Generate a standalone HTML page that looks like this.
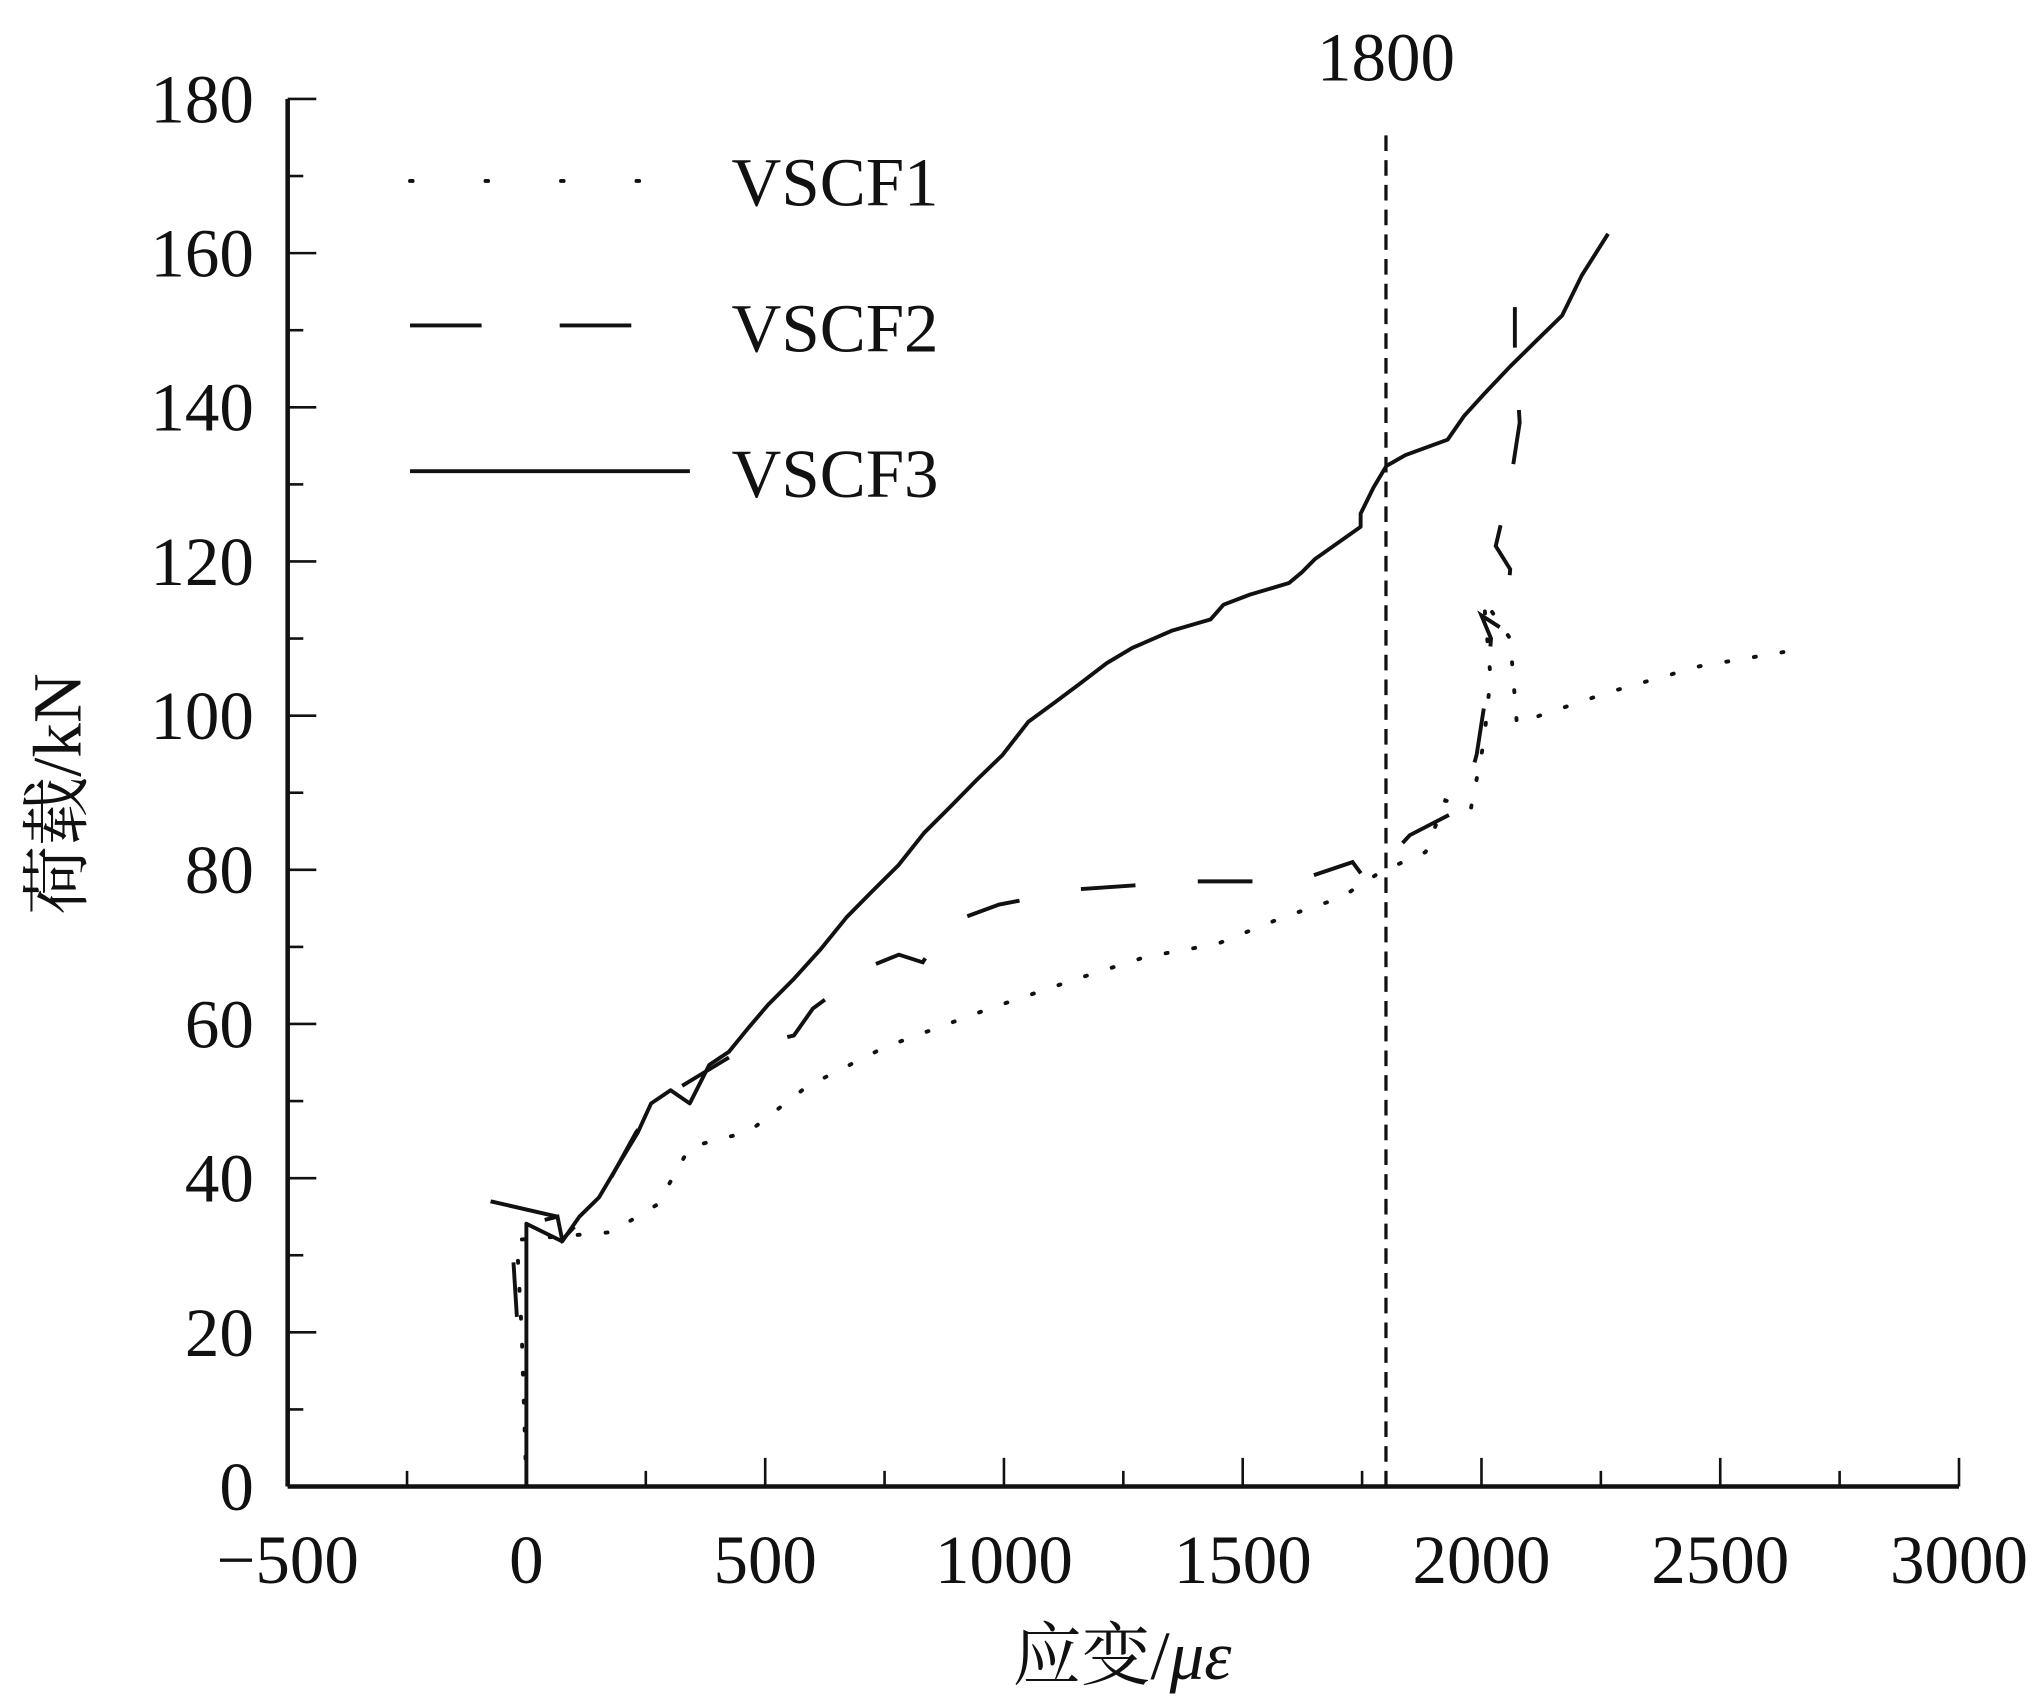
<!DOCTYPE html>
<html><head><meta charset="utf-8"><style>
html,body{margin:0;padding:0;background:#fff;}
svg{display:block;}
text{font-family:"Liberation Serif","Noto Serif CJK SC",serif;fill:#111;}
</style></head><body>
<svg id="chart" width="2041" height="1700" viewBox="0 0 1568 1306" xmlns="http://www.w3.org/2000/svg">
<g id="axes"></g>
<g id="series"></g>
<g id="legend">
  <line x1="315" y1="139" x2="530" y2="139" stroke="#111" stroke-width="3" stroke-dasharray="2 56" stroke-linecap="round"/>
  <text x="562" y="158" font-size="53">VSCF1</text>
  <line x1="315" y1="250" x2="530" y2="250" stroke="#111" stroke-width="3" stroke-dasharray="55 60"/>
  <text x="562" y="270" font-size="53">VSCF2</text>
  <line x1="315" y1="362" x2="530" y2="362" stroke="#111" stroke-width="3"/>
  <text x="562" y="382" font-size="53">VSCF3</text>
</g>
<text transform="translate(62,610) rotate(-90)" text-anchor="middle" font-size="53">荷载/kN</text>
<text x="862" y="1290" text-anchor="middle" font-size="53">应变/<tspan font-style="italic">με</tspan></text>
</svg>
<script>
const xTicks=[-500,0,500,1000,1500,2000,2500,3000];
const yTicks=[0,20,40,60,80,100,120,140,160,180];
const refStrain=1800;
const s1Strain=[0,-10,-20,178,275,342,400,465,588,751,970,1160,1297,1447,1583,1706,1788,1883,1924,1978,2005,2019,2005,2060,2074,2265,2456,2647];
const s1Load=[0,20,32,33,36.6,44,45,46,51.9,57,62,66,68.7,70.4,73.8,76.4,79.7,82.3,89,88,96.6,105,115,110,99,103,106.4,108.4];
const s2Strain=[-20,-30,0,65,75,150,230,300,380,460,560,600,720,780,830,880,990,1160,1400,1610,1730,1760,1850,1960,1990,2010,2020,2000,2050,2060,2030,2060,2080,2070,2070];
const s2Load=[22,32,34,35,32,37,46,51,54,57,58.5,62,67.5,69,68,73,75.5,77.5,78.5,78.5,81,78.5,84.5,88,95,103,110,113,111,119,122,130,138,148,153];
const s3Strain=[0,0,75,111,152,192,233,261,302,342,383,424,465,506,561,615,670,724,779,833,888,942,997,1051,1106,1160,1215,1269,1351,1433,1460,1515,1597,1624,1651,1747,1747,1774,1801,1841,1929,1964,2005,2060,2114,2169,2210,2265];
const s3Load=[0,34.1,31.8,35,37.5,41.7,45.9,49.7,51.4,49.7,54.7,56.4,59.5,62.5,65.9,69.6,73.8,77.2,80.6,84.8,88.2,91.6,94.9,99.2,101.7,104.2,106.8,108.8,111,112.5,114.4,115.7,117.2,118.6,120.3,124.5,126.2,129.6,132.4,133.8,135.8,138.9,141.7,145.3,148.6,151.9,157.1,162.5];
const s3Lead=[[-75,37],[65,35]];
const X0=221,X1=1505,Y0=1142,Y1=76;
const xs=v=>X0+(v+500)/3500*(X1-X0);
const ys=v=>Y0-v/180*(Y0-Y1);
const NS="http://www.w3.org/2000/svg";
function mk(tag,attrs,parent){const e=document.createElementNS(NS,tag);for(const k in attrs)e.setAttribute(k,attrs[k]);parent.appendChild(e);return e;}
const ax=document.getElementById('axes');
let e=mk('line',{x1:X0,y1:Y0,x2:X1,y2:Y0,stroke:'#111','stroke-width':3.5},ax);


e=mk('line',{x1:X0,y1:Y0,x2:X0,y2:Y1,stroke:'#111','stroke-width':3.5},ax);


for(let v=-500;v<=3000;v+=250){const maj=v%500===0;e=mk('line',{x1:xs(v),y1:Y0,x2:xs(v),y2:Y0-(maj?22:12),stroke:'#111','stroke-width':2},ax);

}
for(let v=0;v<=180;v+=10){const maj=v%20===0;e=mk('line',{x1:X0,y1:ys(v),x2:X0+(maj?22:12),y2:ys(v),stroke:'#111','stroke-width':2},ax);

}
xTicks.forEach(v=>{e=mk('text',{x:xs(v),y:Y0+74,'text-anchor':'middle','font-size':53},ax);e.textContent=(v<0?'\u2212'+(-v):v);

});
yTicks.forEach(v=>{e=mk('text',{x:X0-26,y:ys(v)+18,'text-anchor':'end','font-size':53},ax);e.textContent=v;

});
e=mk('line',{x1:xs(refStrain),y1:Y0,x2:xs(refStrain),y2:98,stroke:'#111','stroke-width':2.5,'stroke-dasharray':'12 7'},ax);


e=mk('text',{x:xs(refStrain),y:62,'text-anchor':'middle','font-size':53},ax);e.textContent=refStrain;


const sg=document.getElementById('series');
function pts(xa,ya){return xa.map((x,i)=>xs(x).toFixed(1)+','+ys(ya[i]).toFixed(1)).join(' ');}
e=mk('polyline',{points:pts(s1Strain,s1Load),fill:'none',stroke:'#111','stroke-width':3,'stroke-dasharray':'1.5 20','stroke-linecap':'round'},sg);


e=mk('polyline',{points:pts(s2Strain,s2Load),fill:'none',stroke:'#111','stroke-width':3,'stroke-dasharray':'42 48'},sg);


e=mk('polyline',{points:pts(s3Strain,s3Load),fill:'none',stroke:'#111','stroke-width':3,'stroke-linejoin':'round'},sg);


e=mk('polyline',{points:pts(s3Lead.map(p=>p[0]),s3Lead.map(p=>p[1])),fill:'none',stroke:'#111','stroke-width':3},sg);


</script>
</body></html>
